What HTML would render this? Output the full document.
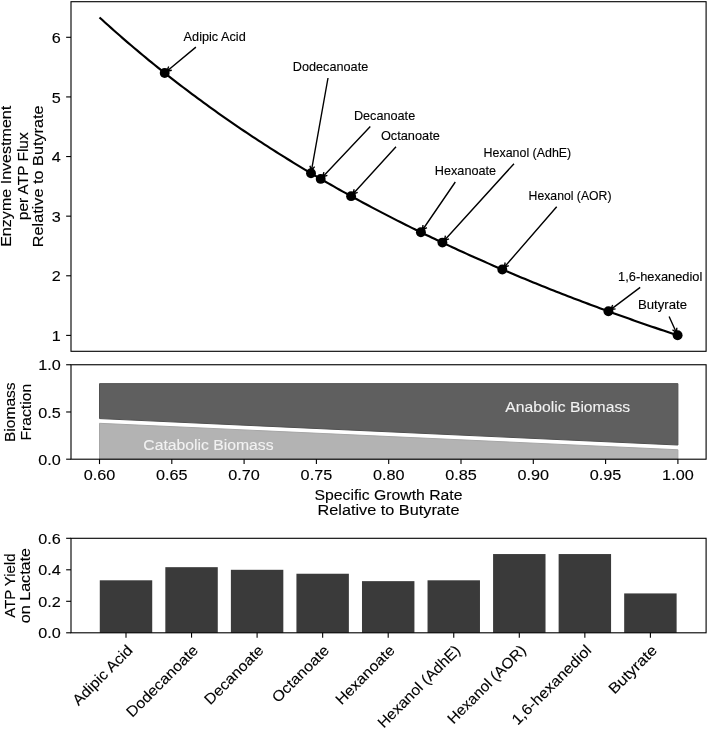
<!DOCTYPE html>
<html><head><meta charset="utf-8"><style>
html,body{margin:0;padding:0;background:#fff;}
svg{display:block;will-change:transform;}
text{font-family:"Liberation Sans",sans-serif;stroke-width:0.12px;}
</style></head><body>
<svg width="708" height="729" viewBox="0 0 708 729">
<rect width="708" height="729" fill="#fff"/>
<polyline points="99.50,17.43 102.39,20.07 105.28,22.69 108.18,25.30 111.07,27.89 113.96,30.46 116.85,33.01 119.74,35.55 122.64,38.07 125.53,40.58 128.42,43.07 131.31,45.54 134.20,48.00 137.10,50.44 139.99,52.87 142.88,55.28 145.77,57.68 148.66,60.06 151.56,62.42 154.45,64.77 157.34,67.11 160.23,69.43 163.12,71.74 166.02,74.03 168.91,76.31 171.80,78.58 174.69,80.83 177.58,83.06 180.48,85.29 183.37,87.50 186.26,89.69 189.15,91.88 192.04,94.05 194.94,96.20 197.83,98.35 200.72,100.48 203.61,102.60 206.50,104.70 209.40,106.80 212.29,108.88 215.18,110.95 218.07,113.01 220.96,115.05 223.86,117.08 226.75,119.10 229.64,121.11 232.53,123.11 235.42,125.10 238.32,127.07 241.21,129.04 244.10,130.99 246.99,132.93 249.88,134.86 252.78,136.78 255.67,138.69 258.56,140.59 261.45,142.47 264.34,144.35 267.24,146.21 270.13,148.07 273.02,149.92 275.91,151.75 278.80,153.58 281.70,155.39 284.59,157.20 287.48,158.99 290.37,160.78 293.26,162.55 296.16,164.32 299.05,166.07 301.94,167.82 304.83,169.56 307.72,171.28 310.62,173.00 313.51,174.71 316.40,176.41 319.29,178.10 322.18,179.79 325.08,181.46 327.97,183.13 330.86,184.78 333.75,186.43 336.64,188.07 339.54,189.70 342.43,191.32 345.32,192.93 348.21,194.54 351.10,196.13 354.00,197.72 356.89,199.30 359.78,200.87 362.67,202.44 365.56,203.99 368.46,205.54 371.35,207.08 374.24,208.61 377.13,210.14 380.02,211.65 382.92,213.16 385.81,214.67 388.70,216.16 391.59,217.65 394.48,219.13 397.38,220.60 400.27,222.06 403.16,223.52 406.05,224.97 408.94,226.41 411.84,227.85 414.73,229.28 417.62,230.70 420.51,232.12 423.40,233.53 426.30,234.93 429.19,236.32 432.08,237.71 434.97,239.09 437.86,240.47 440.76,241.83 443.65,243.20 446.54,244.55 449.43,245.90 452.32,247.24 455.22,248.58 458.11,249.91 461.00,251.23 463.89,252.55 466.78,253.86 469.68,255.16 472.57,256.46 475.46,257.76 478.35,259.04 481.24,260.32 484.14,261.60 487.03,262.87 489.92,264.13 492.81,265.39 495.70,266.64 498.60,267.89 501.49,269.13 504.38,270.36 507.27,271.59 510.16,272.81 513.06,274.03 515.95,275.24 518.84,276.45 521.73,277.65 524.62,278.85 527.52,280.04 530.41,281.22 533.30,282.40 536.19,283.58 539.08,284.75 541.98,285.91 544.87,287.07 547.76,288.23 550.65,289.38 553.54,290.52 556.44,291.66 559.33,292.80 562.22,293.93 565.11,295.05 568.00,296.17 570.90,297.28 573.79,298.39 576.68,299.50 579.57,300.60 582.46,301.70 585.36,302.79 588.25,303.87 591.14,304.96 594.03,306.03 596.92,307.11 599.82,308.17 602.71,309.24 605.60,310.30 608.49,311.35 611.38,312.40 614.28,313.45 617.17,314.49 620.06,315.53 622.95,316.56 625.84,317.59 628.74,318.61 631.63,319.63 634.52,320.65 637.41,321.66 640.30,322.67 643.20,323.67 646.09,324.67 648.98,325.67 651.87,326.66 654.76,327.64 657.66,328.63 660.55,329.61 663.44,330.58 666.33,331.55 669.22,332.52 672.12,333.48 675.01,334.44 677.90,335.40" fill="none" stroke="#000" stroke-width="2.15" stroke-linejoin="round"/>
<circle cx="164.70" cy="72.99" r="4.95" fill="#000"/>
<circle cx="311.00" cy="173.23" r="4.95" fill="#000"/>
<circle cx="320.70" cy="178.92" r="4.95" fill="#000"/>
<circle cx="351.10" cy="196.13" r="4.95" fill="#000"/>
<circle cx="420.90" cy="232.31" r="4.95" fill="#000"/>
<circle cx="442.40" cy="242.61" r="4.95" fill="#000"/>
<circle cx="502.30" cy="269.47" r="4.95" fill="#000"/>
<circle cx="608.40" cy="311.32" r="4.95" fill="#000"/>
<circle cx="677.60" cy="335.30" r="4.95" fill="#000"/>
<path d="M195.90,47.10 L166.84,71.21 M168.69,66.56 L166.84,71.21 L171.76,70.25" fill="none" stroke="#000" stroke-width="1.39" stroke-linejoin="miter" stroke-linecap="butt"/>
<text x="183.60" y="40.50" font-size="11.90" text-anchor="start" fill="#000" stroke="#000" textLength="62.14" lengthAdjust="spacingAndGlyphs" >Adipic Acid</text>
<path d="M328.00,78.00 L311.49,170.49 M309.90,165.74 L311.49,170.49 L314.62,166.58" fill="none" stroke="#000" stroke-width="1.39" stroke-linejoin="miter" stroke-linecap="butt"/>
<text x="292.80" y="70.60" font-size="11.90" text-anchor="start" fill="#000" stroke="#000" textLength="75.41" lengthAdjust="spacingAndGlyphs" >Dodecanoate</text>
<path d="M370.30,126.60 L322.61,176.91 M323.90,172.06 L322.61,176.91 L327.38,175.37" fill="none" stroke="#000" stroke-width="1.39" stroke-linejoin="miter" stroke-linecap="butt"/>
<text x="353.90" y="119.60" font-size="11.90" text-anchor="start" fill="#000" stroke="#000" textLength="61.29" lengthAdjust="spacingAndGlyphs" >Decanoate</text>
<path d="M396.00,146.80 L352.97,194.07 M354.16,189.21 L352.97,194.07 L357.71,192.44" fill="none" stroke="#000" stroke-width="1.39" stroke-linejoin="miter" stroke-linecap="butt"/>
<text x="380.90" y="139.60" font-size="11.90" text-anchor="start" fill="#000" stroke="#000" textLength="58.96" lengthAdjust="spacingAndGlyphs" >Octanoate</text>
<path d="M455.30,182.00 L422.47,230.01 M422.97,225.02 L422.47,230.01 L426.93,227.73" fill="none" stroke="#000" stroke-width="1.39" stroke-linejoin="miter" stroke-linecap="butt"/>
<text x="434.80" y="174.80" font-size="11.90" text-anchor="start" fill="#000" stroke="#000" textLength="61.36" lengthAdjust="spacingAndGlyphs" >Hexanoate</text>
<path d="M514.00,163.70 L444.27,240.55 M445.45,235.68 L444.27,240.55 L449.00,238.90" fill="none" stroke="#000" stroke-width="1.39" stroke-linejoin="miter" stroke-linecap="butt"/>
<text x="483.60" y="157.20" font-size="11.90" text-anchor="start" fill="#000" stroke="#000" textLength="87.66" lengthAdjust="spacingAndGlyphs" >Hexanol (AdhE)</text>
<path d="M556.70,206.80 L504.12,267.37 M505.19,262.48 L504.12,267.37 L508.82,265.62" fill="none" stroke="#000" stroke-width="1.39" stroke-linejoin="miter" stroke-linecap="butt"/>
<text x="528.60" y="199.70" font-size="11.90" text-anchor="start" fill="#000" stroke="#000" textLength="82.92" lengthAdjust="spacingAndGlyphs" >Hexanol (AOR)</text>
<path d="M640.20,287.40 L610.62,309.65 M612.70,305.08 L610.62,309.65 L615.58,308.92" fill="none" stroke="#000" stroke-width="1.39" stroke-linejoin="miter" stroke-linecap="butt"/>
<text x="618.10" y="280.70" font-size="11.90" text-anchor="start" fill="#000" stroke="#000" textLength="84.22" lengthAdjust="spacingAndGlyphs" >1,6-hexanediol</text>
<path d="M669.10,316.50 L676.45,332.77 M672.46,329.75 L676.45,332.77 L676.83,327.77" fill="none" stroke="#000" stroke-width="1.39" stroke-linejoin="miter" stroke-linecap="butt"/>
<text x="638.00" y="309.00" font-size="11.90" text-anchor="start" fill="#000" stroke="#000" textLength="49.08" lengthAdjust="spacingAndGlyphs" >Butyrate</text>
<rect x="71.0" y="1.7" width="635.10" height="349.60" fill="none" stroke="#000" stroke-width="1.11"/>
<line x1="66.14" y1="335.40" x2="71.00" y2="335.40" stroke="#000" stroke-width="1.11" />
<text x="60.78" y="341.00" font-size="14.88" text-anchor="end" fill="#000" stroke="#000" textLength="9.02" lengthAdjust="spacingAndGlyphs" >1</text>
<line x1="66.14" y1="275.78" x2="71.00" y2="275.78" stroke="#000" stroke-width="1.11" />
<text x="60.78" y="281.38" font-size="14.88" text-anchor="end" fill="#000" stroke="#000" textLength="9.02" lengthAdjust="spacingAndGlyphs" >2</text>
<line x1="66.14" y1="216.16" x2="71.00" y2="216.16" stroke="#000" stroke-width="1.11" />
<text x="60.78" y="221.76" font-size="14.88" text-anchor="end" fill="#000" stroke="#000" textLength="9.02" lengthAdjust="spacingAndGlyphs" >3</text>
<line x1="66.14" y1="156.54" x2="71.00" y2="156.54" stroke="#000" stroke-width="1.11" />
<text x="60.78" y="162.14" font-size="14.88" text-anchor="end" fill="#000" stroke="#000" textLength="9.02" lengthAdjust="spacingAndGlyphs" >4</text>
<line x1="66.14" y1="96.92" x2="71.00" y2="96.92" stroke="#000" stroke-width="1.11" />
<text x="60.78" y="102.52" font-size="14.88" text-anchor="end" fill="#000" stroke="#000" textLength="9.02" lengthAdjust="spacingAndGlyphs" >5</text>
<line x1="66.14" y1="37.30" x2="71.00" y2="37.30" stroke="#000" stroke-width="1.11" />
<text x="60.78" y="42.90" font-size="14.88" text-anchor="end" fill="#000" stroke="#000" textLength="9.02" lengthAdjust="spacingAndGlyphs" >6</text>
<text transform="translate(11.30,176.30) rotate(-90)" x="0.00" y="0.00" font-size="14.88" text-anchor="middle" fill="#000" stroke="#000" textLength="141.12" lengthAdjust="spacingAndGlyphs">Enzyme Investment</text>
<text transform="translate(27.50,176.30) rotate(-90)" x="0.00" y="0.00" font-size="14.88" text-anchor="middle" fill="#000" stroke="#000" textLength="87.84" lengthAdjust="spacingAndGlyphs">per ATP Flux</text>
<text transform="translate(43.10,176.30) rotate(-90)" x="0.00" y="0.00" font-size="14.88" text-anchor="middle" fill="#000" stroke="#000" textLength="141.88" lengthAdjust="spacingAndGlyphs">Relative to Butyrate</text>
<polygon points="99.50,459.20 99.50,423.31 677.90,449.75 677.90,459.20" fill="#b3b3b3" stroke="#a6a6a6" stroke-width="1"/>
<polygon points="99.50,418.59 99.50,383.64 677.90,383.64 677.90,445.03" fill="#5f5f5f" stroke="#505050" stroke-width="1"/>
<text x="505.30" y="411.80" font-size="14.88" text-anchor="start" fill="#f2f2f2" stroke="#f2f2f2" textLength="124.84" lengthAdjust="spacingAndGlyphs" >Anabolic Biomass</text>
<text x="143.30" y="450.10" font-size="14.88" text-anchor="start" fill="#f2f2f2" stroke="#f2f2f2" textLength="130.30" lengthAdjust="spacingAndGlyphs" >Catabolic Biomass</text>
<rect x="71.0" y="364.75" width="635.10" height="94.45" fill="none" stroke="#000" stroke-width="1.11"/>
<line x1="66.14" y1="459.20" x2="71.00" y2="459.20" stroke="#000" stroke-width="1.11" />
<text x="60.78" y="464.80" font-size="14.88" text-anchor="end" fill="#000" stroke="#000" textLength="22.55" lengthAdjust="spacingAndGlyphs" >0.0</text>
<line x1="66.14" y1="411.98" x2="71.00" y2="411.98" stroke="#000" stroke-width="1.11" />
<text x="60.78" y="417.58" font-size="14.88" text-anchor="end" fill="#000" stroke="#000" textLength="22.55" lengthAdjust="spacingAndGlyphs" >0.5</text>
<line x1="66.14" y1="364.75" x2="71.00" y2="364.75" stroke="#000" stroke-width="1.11" />
<text x="60.78" y="370.35" font-size="14.88" text-anchor="end" fill="#000" stroke="#000" textLength="22.55" lengthAdjust="spacingAndGlyphs" >1.0</text>
<line x1="99.50" y1="459.20" x2="99.50" y2="464.06" stroke="#000" stroke-width="1.11" />
<text x="99.50" y="480.20" font-size="14.88" text-anchor="middle" fill="#000" stroke="#000" textLength="31.57" lengthAdjust="spacingAndGlyphs" >0.60</text>
<line x1="171.80" y1="459.20" x2="171.80" y2="464.06" stroke="#000" stroke-width="1.11" />
<text x="171.80" y="480.20" font-size="14.88" text-anchor="middle" fill="#000" stroke="#000" textLength="31.57" lengthAdjust="spacingAndGlyphs" >0.65</text>
<line x1="244.10" y1="459.20" x2="244.10" y2="464.06" stroke="#000" stroke-width="1.11" />
<text x="244.10" y="480.20" font-size="14.88" text-anchor="middle" fill="#000" stroke="#000" textLength="31.57" lengthAdjust="spacingAndGlyphs" >0.70</text>
<line x1="316.40" y1="459.20" x2="316.40" y2="464.06" stroke="#000" stroke-width="1.11" />
<text x="316.40" y="480.20" font-size="14.88" text-anchor="middle" fill="#000" stroke="#000" textLength="31.57" lengthAdjust="spacingAndGlyphs" >0.75</text>
<line x1="388.70" y1="459.20" x2="388.70" y2="464.06" stroke="#000" stroke-width="1.11" />
<text x="388.70" y="480.20" font-size="14.88" text-anchor="middle" fill="#000" stroke="#000" textLength="31.57" lengthAdjust="spacingAndGlyphs" >0.80</text>
<line x1="461.00" y1="459.20" x2="461.00" y2="464.06" stroke="#000" stroke-width="1.11" />
<text x="461.00" y="480.20" font-size="14.88" text-anchor="middle" fill="#000" stroke="#000" textLength="31.57" lengthAdjust="spacingAndGlyphs" >0.85</text>
<line x1="533.30" y1="459.20" x2="533.30" y2="464.06" stroke="#000" stroke-width="1.11" />
<text x="533.30" y="480.20" font-size="14.88" text-anchor="middle" fill="#000" stroke="#000" textLength="31.57" lengthAdjust="spacingAndGlyphs" >0.90</text>
<line x1="605.60" y1="459.20" x2="605.60" y2="464.06" stroke="#000" stroke-width="1.11" />
<text x="605.60" y="480.20" font-size="14.88" text-anchor="middle" fill="#000" stroke="#000" textLength="31.57" lengthAdjust="spacingAndGlyphs" >0.95</text>
<line x1="677.90" y1="459.20" x2="677.90" y2="464.06" stroke="#000" stroke-width="1.11" />
<text x="677.90" y="480.20" font-size="14.88" text-anchor="middle" fill="#000" stroke="#000" textLength="31.57" lengthAdjust="spacingAndGlyphs" >1.00</text>
<text x="388.50" y="499.50" font-size="14.88" text-anchor="middle" fill="#000" stroke="#000" textLength="148.02" lengthAdjust="spacingAndGlyphs" >Specific Growth Rate</text>
<text x="388.50" y="515.00" font-size="14.88" text-anchor="middle" fill="#000" stroke="#000" textLength="141.88" lengthAdjust="spacingAndGlyphs" >Relative to Butyrate</text>
<text transform="translate(14.80,412.20) rotate(-90)" x="0.00" y="0.00" font-size="14.88" text-anchor="middle" fill="#000" stroke="#000" textLength="59.61" lengthAdjust="spacingAndGlyphs">Biomass</text>
<text transform="translate(31.30,412.20) rotate(-90)" x="0.00" y="0.00" font-size="14.88" text-anchor="middle" fill="#000" stroke="#000" textLength="56.59" lengthAdjust="spacingAndGlyphs">Fraction</text>
<rect x="99.78" y="580.30" width="52.44" height="52.50" fill="#3a3a3a"/>
<rect x="165.33" y="567.17" width="52.44" height="65.62" fill="#3a3a3a"/>
<rect x="230.88" y="569.80" width="52.44" height="63.00" fill="#3a3a3a"/>
<rect x="296.43" y="573.74" width="52.44" height="59.06" fill="#3a3a3a"/>
<rect x="361.98" y="581.14" width="52.44" height="51.66" fill="#3a3a3a"/>
<rect x="427.53" y="580.30" width="52.44" height="52.50" fill="#3a3a3a"/>
<rect x="493.08" y="554.05" width="52.44" height="78.75" fill="#3a3a3a"/>
<rect x="558.63" y="554.05" width="52.44" height="78.75" fill="#3a3a3a"/>
<rect x="624.18" y="593.42" width="52.44" height="39.38" fill="#3a3a3a"/>
<rect x="71.0" y="538.3" width="635.10" height="94.50" fill="none" stroke="#000" stroke-width="1.11"/>
<line x1="66.14" y1="632.80" x2="71.00" y2="632.80" stroke="#000" stroke-width="1.11" />
<text x="60.78" y="638.40" font-size="14.88" text-anchor="end" fill="#000" stroke="#000" textLength="22.55" lengthAdjust="spacingAndGlyphs" >0.0</text>
<line x1="66.14" y1="601.30" x2="71.00" y2="601.30" stroke="#000" stroke-width="1.11" />
<text x="60.78" y="606.90" font-size="14.88" text-anchor="end" fill="#000" stroke="#000" textLength="22.55" lengthAdjust="spacingAndGlyphs" >0.2</text>
<line x1="66.14" y1="569.80" x2="71.00" y2="569.80" stroke="#000" stroke-width="1.11" />
<text x="60.78" y="575.40" font-size="14.88" text-anchor="end" fill="#000" stroke="#000" textLength="22.55" lengthAdjust="spacingAndGlyphs" >0.4</text>
<line x1="66.14" y1="538.30" x2="71.00" y2="538.30" stroke="#000" stroke-width="1.11" />
<text x="60.78" y="543.90" font-size="14.88" text-anchor="end" fill="#000" stroke="#000" textLength="22.55" lengthAdjust="spacingAndGlyphs" >0.6</text>
<line x1="126.00" y1="632.80" x2="126.00" y2="637.66" stroke="#000" stroke-width="1.11" />
<text transform="translate(126.00,643.72) rotate(-45)" x="0.00" y="10.60" font-size="14.88" text-anchor="end" fill="#000" stroke="#000" textLength="77.81" lengthAdjust="spacingAndGlyphs">Adipic Acid</text>
<line x1="191.55" y1="632.80" x2="191.55" y2="637.66" stroke="#000" stroke-width="1.11" />
<text transform="translate(191.55,643.72) rotate(-45)" x="0.00" y="10.60" font-size="14.88" text-anchor="end" fill="#000" stroke="#000" textLength="94.43" lengthAdjust="spacingAndGlyphs">Dodecanoate</text>
<line x1="257.10" y1="632.80" x2="257.10" y2="637.66" stroke="#000" stroke-width="1.11" />
<text transform="translate(257.10,643.72) rotate(-45)" x="0.00" y="10.60" font-size="14.88" text-anchor="end" fill="#000" stroke="#000" textLength="76.75" lengthAdjust="spacingAndGlyphs">Decanoate</text>
<line x1="322.65" y1="632.80" x2="322.65" y2="637.66" stroke="#000" stroke-width="1.11" />
<text transform="translate(322.65,643.72) rotate(-45)" x="0.00" y="10.60" font-size="14.88" text-anchor="end" fill="#000" stroke="#000" textLength="73.83" lengthAdjust="spacingAndGlyphs">Octanoate</text>
<line x1="388.20" y1="632.80" x2="388.20" y2="637.66" stroke="#000" stroke-width="1.11" />
<text transform="translate(388.20,643.72) rotate(-45)" x="0.00" y="10.60" font-size="14.88" text-anchor="end" fill="#000" stroke="#000" textLength="76.84" lengthAdjust="spacingAndGlyphs">Hexanoate</text>
<line x1="453.75" y1="632.80" x2="453.75" y2="637.66" stroke="#000" stroke-width="1.11" />
<text transform="translate(453.75,643.72) rotate(-45)" x="0.00" y="10.60" font-size="14.88" text-anchor="end" fill="#000" stroke="#000" textLength="109.77" lengthAdjust="spacingAndGlyphs">Hexanol (AdhE)</text>
<line x1="519.30" y1="632.80" x2="519.30" y2="637.66" stroke="#000" stroke-width="1.11" />
<text transform="translate(519.30,643.72) rotate(-45)" x="0.00" y="10.60" font-size="14.88" text-anchor="end" fill="#000" stroke="#000" textLength="103.84" lengthAdjust="spacingAndGlyphs">Hexanol (AOR)</text>
<line x1="584.85" y1="632.80" x2="584.85" y2="637.66" stroke="#000" stroke-width="1.11" />
<text transform="translate(584.85,643.72) rotate(-45)" x="0.00" y="10.60" font-size="14.88" text-anchor="end" fill="#000" stroke="#000" textLength="105.46" lengthAdjust="spacingAndGlyphs">1,6-hexanediol</text>
<line x1="650.40" y1="632.80" x2="650.40" y2="637.66" stroke="#000" stroke-width="1.11" />
<text transform="translate(650.40,643.72) rotate(-45)" x="0.00" y="10.60" font-size="14.88" text-anchor="end" fill="#000" stroke="#000" textLength="61.46" lengthAdjust="spacingAndGlyphs">Butyrate</text>
<text transform="translate(14.80,585.60) rotate(-90)" x="0.00" y="0.00" font-size="14.88" text-anchor="middle" fill="#000" stroke="#000" textLength="64.07" lengthAdjust="spacingAndGlyphs">ATP Yield</text>
<text transform="translate(30.20,585.60) rotate(-90)" x="0.00" y="0.00" font-size="14.88" text-anchor="middle" fill="#000" stroke="#000" textLength="75.08" lengthAdjust="spacingAndGlyphs">on Lactate</text>
</svg>
</body></html>
